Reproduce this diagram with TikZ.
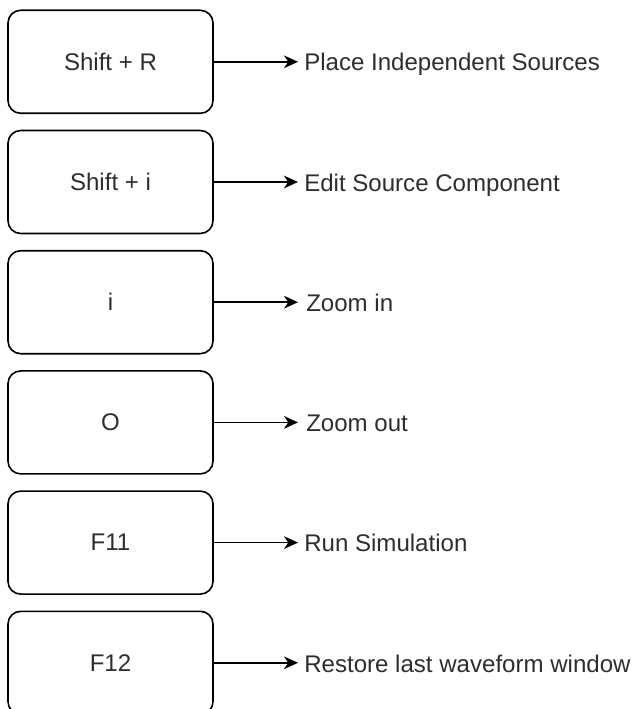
\documentclass[tikz,border=0pt]{standalone}
\usepackage{fontspec}
\setmainfont{Liberation Sans}
\usetikzlibrary{arrows.meta}
\definecolor{txt}{HTML}{2E2E2E}
\begin{document}
\begin{tikzpicture}[x=0.75pt,y=-0.75pt,
  keybox/.style={draw=black, line width=1.2pt, rounded corners=9.5pt,
    minimum width=153.75pt, minimum height=77.25pt, inner sep=0pt,
    font=\fontsize{18.05}{21}\selectfont, text=txt},
  lbl/.style={anchor=base west, inner xsep=4.5pt, inner ysep=0pt,
    font=\fontsize{18.05}{21}\selectfont, text=txt},
  arr/.style={draw=black, line width=1.2pt,
    -{Stealth[length=10.5pt, width=9.5pt, inset=3.2pt]}}]
\useasboundingbox (0,0) rectangle (633,709);
\fill[white] (0,0) rectangle (633,709);
\clip (0,0) rectangle (633,709);
\node[keybox] (k1) at (110.5, 61.8) {Shift + R};
\node[keybox] (k2) at (110.5, 182.0) {Shift + i};
\node[keybox] (k3) at (110.5, 302.2) {i};
\node[keybox] (k4) at (110.5, 422.4) {O};
\node[keybox] (k5) at (110.5, 542.6) {F11};
\node[keybox] (k6) at (110.5, 662.8) {F12};
\node[lbl] (l1) at (298, 71.0) {Place Independent Sources};
\node[lbl] (l2) at (298, 191.2) {Edit Source Component};
\node[lbl, xshift=1.5pt] (l3) at (298, 311.4) {Zoom in};
\node[lbl, xshift=1.5pt] (l4) at (298, 431.6) {Zoom out};
\node[lbl] (l5) at (298, 551.8) {Run Simulation};
\node[lbl] (l6) at (298, 672.0) {Restore last waveform window};
\draw[arr] (k1.east) -- (k1.east -| 298,0);
\draw[arr] (k2.east) -- (k2.east -| 298,0);
\draw[arr] (k3.east) -- (k3.east -| 298,0);
\draw[arr] (k4.east) -- (k4.east -| 298,0);
\draw[arr] (k5.east) -- (k5.east -| 298,0);
\draw[arr] (k6.east) -- (k6.east -| 298,0);
\end{tikzpicture}
\end{document}
